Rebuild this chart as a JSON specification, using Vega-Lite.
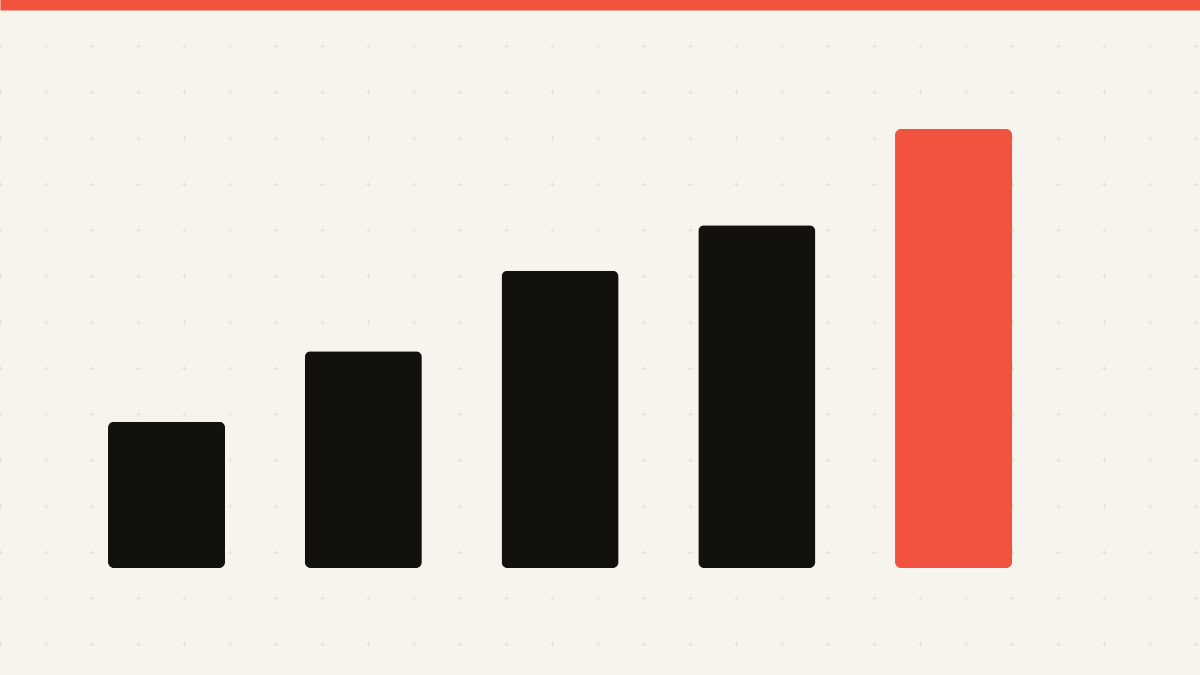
{
  "$schema": "https://vega.github.io/schema/vega-lite/v6.json",
  "width": 1200,
  "height": 675,
  "padding": 0,
  "autosize": {"type": "none"},
  "background": "#F7F4EE",
  "config": {"view": {"stroke": null}},
  "data": {
    "values": [
      {"label": "A", "value": 33.3},
      {"label": "B", "value": 49.4},
      {"label": "C", "value": 67.7},
      {"label": "D", "value": 78.1},
      {"label": "E", "value": 100}
    ]
  },
  "layer": [
    {
      "mark": {"type": "point", "opacity": 0},
      "encoding": {
        "x": {
          "field": "value",
          "type": "quantitative",
          "scale": {"domain": [0, 1200], "nice": false, "zero": false},
          "axis": {
            "orient": "bottom",
            "values": [0, 46, 92, 138, 184, 230, 276, 322, 368, 414, 460, 506, 552, 598, 644, 690, 736, 782, 828, 874, 920, 966, 1012, 1058, 1104, 1150, 1196],
            "labels": false, "ticks": false, "domain": false, "title": null,
            "grid": true, "gridColor": "#E6E2DA", "gridWidth": 1,
            "gridDash": [5, 41], "gridDashOffset": 2.5
          }
        },
        "y": {
          "field": "value",
          "type": "quantitative",
          "scale": {"domain": [0, 675], "nice": false, "zero": false},
          "axis": {
            "orient": "left",
            "values": [629, 583, 537, 491, 445, 399, 353, 307, 261, 215, 169, 123, 77, 31],
            "labels": false, "ticks": false, "domain": false, "title": null,
            "grid": true, "gridColor": "#E6E2DA", "gridWidth": 1,
            "gridDash": [5, 41], "gridDashOffset": 2.5
          }
        }
      }
    },
    {
      "mark": {"type": "bar", "cornerRadius": 6},
      "encoding": {
        "x": {
          "field": "label",
          "type": "nominal",
          "sort": null,
          "scale": {"paddingInner": 0.405, "paddingOuter": 0.752, "align": 0.365},
          "axis": {
            "orient": "top",
            "labels": false, "ticks": false, "title": null, "grid": false,
            "domain": true, "domainColor": "#F2533F", "domainWidth": 20
          }
        },
        "y": {
          "field": "value",
          "type": "quantitative",
          "scale": {"domain": [0, 100], "range": [568, 129], "nice": false},
          "axis": null
        },
        "color": {
          "condition": {"test": "datum.label === 'E'", "value": "#F2533F"},
          "value": "#12110E"
        }
      }
    }
  ],
  "resolve": {
    "scale": {"x": "independent", "y": "independent"},
    "axis": {"x": "independent", "y": "independent"}
  }
}
